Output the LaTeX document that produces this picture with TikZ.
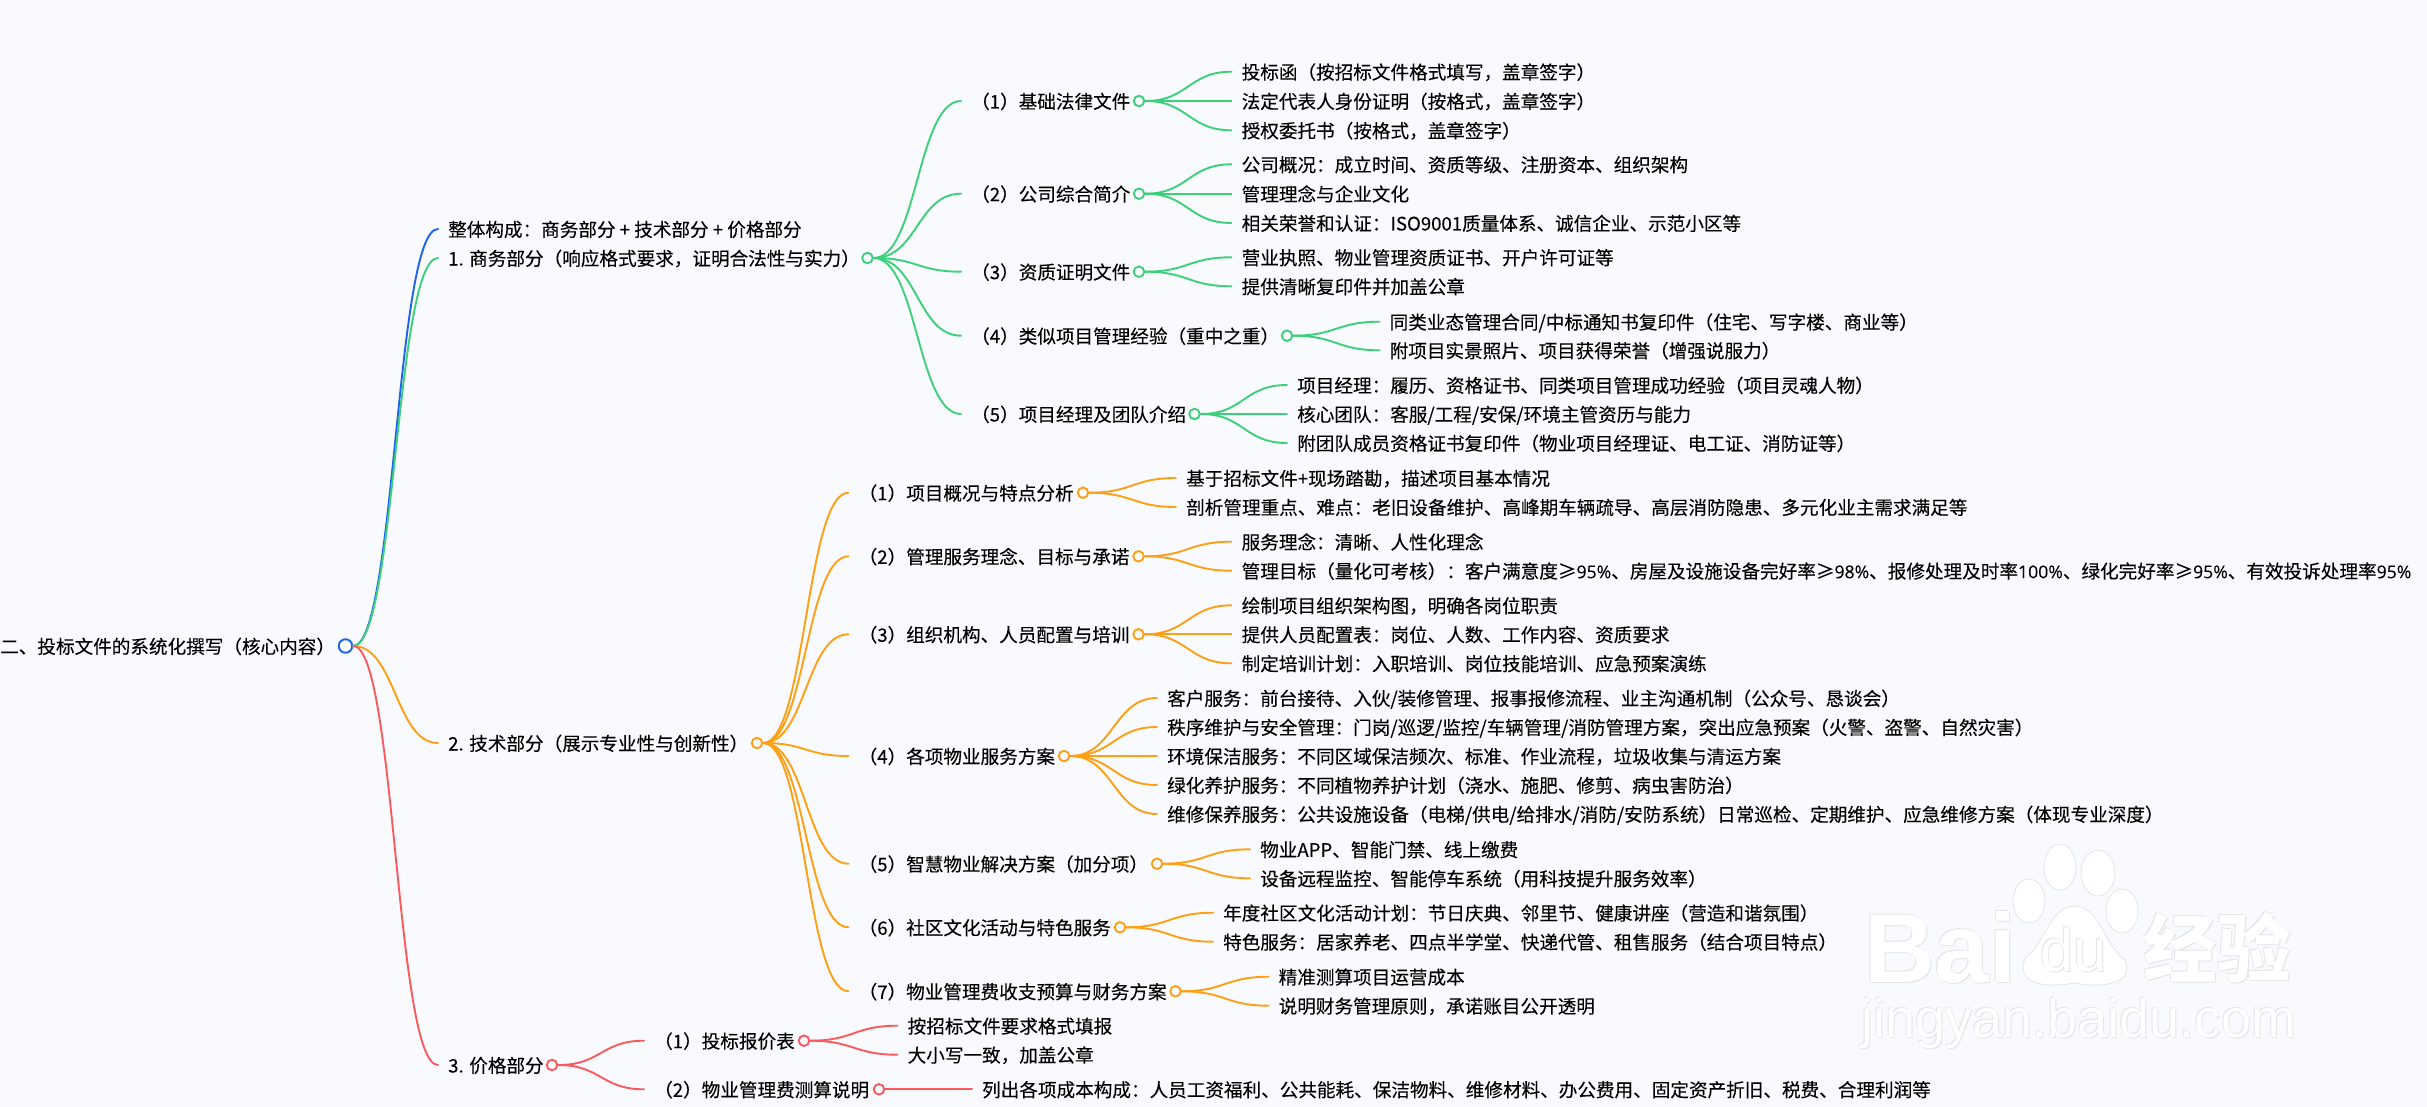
\documentclass[tikz,border=0pt]{standalone}
\usepackage{fontspec}
\setmainfont[FakeBold=0.12]{Noto Sans CJK SC}
\newfontfamily\wmlatin{Liberation Sans}
\newfontfamily\wmcjk{Noto Sans CJK SC}
\newfontfamily\nf[Scale=0.95,FakeBold=0.1]{Open Sans}
\usetikzlibrary{calc}
\definecolor{pagebg}{HTML}{F9FAFD}
\definecolor{cblue}{HTML}{1D63F0}
\definecolor{cgreen}{HTML}{3CD07A}
\definecolor{corange}{HTML}{FF9F14}
\definecolor{cred}{HTML}{F95A5F}
\definecolor{wmline}{HTML}{E4E5E9}
\tikzset{
  txt/.style={anchor=west,inner xsep=10pt,inner ysep=0pt,text height=20pt,text depth=5pt,text=black,
    font=\fontsize{18.6}{22}\selectfont},
  hubdot/.style={circle,fill=pagebg,line width=1.9pt,minimum size=10.5pt,inner sep=0pt},
  rootdot/.style={hubdot,minimum size=13.5pt},
  link/.style={line width=1.9pt,line cap=round},
  wm/.style={inner sep=0pt,text=white},
  wmshadow/.style={inner sep=0pt,text=wmline},
  pawpart/.style={fill=white,draw=wmline,line width=.8pt}
}
% \kid{colour}{parent}{name}{link end x}{y}{text}
\newcommand{\kid}[6]{%
  \node[txt] (#3) at (#4,#5) {#6};
  \draw[link,#1] let \p1=(#2.east), \p2=(#3.west) in
    (\p1) .. controls ({(\x1+\x2)/2},\y1) and ({(\x1+\x2)/2},\y2) .. (\p2);
}
% \hub{colour}{name}{x}{y}
\newcommand{\hub}[4]{\node[hubdot,draw=#1] (#2) at (#3,#4) {};}
\newcommand{\wmtext}[5]{% name, x, y, font, text
  \node[wmshadow,font=#4,anchor=west] (#1a) at (#2+1,#3+1) {#5};
  \node[wmshadow,font=#4,anchor=west] (#1b) at (#2-1,#3-1) {#5};
  \node[wm,font=#4,anchor=west] (#1) at (#2,#3) {#5};
}
\begin{document}
\begin{tikzpicture}[x=1pt,y=-1pt]
\fill[pagebg] (0,0) rectangle (2427,1107);
\useasboundingbox (0,0) rectangle (2427,1107);

% watermark
\wmtext{wmbai}{1864}{947}{\wmlatin\bfseries\fontsize{98}{98}\selectfont}{Bai}
\wmtext{wmjy}{2143}{948}{\wmcjk\bfseries\fontsize{74}{74}\selectfont}{经验}
\wmtext{wmurl}{1861}{1024}{\wmlatin\fontsize{54}{54}\selectfont}{jingyan.baidu.com}
\draw[pawpart] (2060,867) ellipse (16 and 23);
\draw[pawpart] (2098,873) ellipse (17 and 23);
\draw[pawpart] (2029,901) ellipse (16 and 22);
\draw[pawpart] (2122,911) ellipse (16 and 22);
\draw[pawpart] (2074,906) .. controls (2100,906) and (2104,945) .. (2125,960)
  .. controls (2135,985) and (2100,988) .. (2075,983) .. controls (2045,988) and (2015,985) .. (2025,958)
  .. controls (2045,945) and (2050,906) .. (2074,906) -- cycle;
\wmtext{wmdu}{2040}{950}{\wmlatin\fontsize{60}{60}\selectfont}{du}

% root
\node[txt] (root) at (-10,646) {二、投标文件的系统化撰写（核心内容）};
\node[rootdot,draw=cblue] (rootc) at (345.5,646) {};

\kid{cblue}{rootc}{all}{438}{229}{整体构成：商务部分 + 技术部分 + 价格部分}
\kid{cgreen}{rootc}{biz}{438}{258}{1. 商务部分（响应格式要求，证明合法性与实力）}
\kid{corange}{rootc}{tech}{438}{743}{2. 技术部分（展示专业性与创新性）}
\kid{cred}{rootc}{price}{438}{1065}{3. 价格部分}

% business
\hub{cgreen}{bizc}{867.5}{258}
\kid{cgreen}{bizc}{b1}{961}{101}{（1）基础法律文件}
\kid{cgreen}{bizc}{b2}{961}{193.7}{（2）公司综合简介}
\kid{cgreen}{bizc}{b3}{961}{271.7}{（3）资质证明文件}
\kid{cgreen}{bizc}{b4}{961}{335.7}{（4）类似项目管理经验（重中之重）}
\kid{cgreen}{bizc}{b5}{961}{414}{（5）项目经理及团队介绍}

\hub{cgreen}{b1c}{1139}{101}
\kid{cgreen}{b1c}{b11}{1231.5}{71.7}{投标函（按招标文件格式填写，盖章签字）}
\kid{cgreen}{b1c}{b12}{1231.5}{101}{法定代表人身份证明（按格式，盖章签字）}
\kid{cgreen}{b1c}{b13}{1231.5}{130.3}{授权委托书（按格式，盖章签字）}

\hub{cgreen}{b2c}{1139}{193.7}
\kid{cgreen}{b2c}{b21}{1231.5}{164.3}{公司概况：成立时间、资质等级、注册资本、组织架构}
\kid{cgreen}{b2c}{b22}{1231.5}{193.7}{管理理念与企业文化}
\kid{cgreen}{b2c}{b23}{1231.5}{223}{相关荣誉和认证：ISO9001质量体系、诚信企业、示范小区等}

\hub{cgreen}{b3c}{1139}{271.7}
\kid{cgreen}{b3c}{b31}{1231.5}{257.3}{营业执照、物业管理资质证书、开户许可证等}
\kid{cgreen}{b3c}{b32}{1231.5}{286.3}{提供清晰复印件并加盖公章}

\hub{cgreen}{b4c}{1287}{335.7}
\kid{cgreen}{b4c}{b41}{1379.5}{321.7}{同类业态管理合同/中标通知书复印件（住宅、写字楼、商业等）}
\kid{cgreen}{b4c}{b42}{1379.5}{350.3}{附项目实景照片、项目获得荣誉（增强说服力）}

\hub{cgreen}{b5c}{1194.5}{414}
\kid{cgreen}{b5c}{b51}{1287}{385}{项目经理：履历、资格证书、同类项目管理成功经验（项目灵魂人物）}
\kid{cgreen}{b5c}{b52}{1287}{414}{核心团队：客服/工程/安保/环境主管资历与能力}
\kid{cgreen}{b5c}{b53}{1287}{443}{附团队成员资格证书复印件（物业项目经理证、电工证、消防证等）}

% technical
\hub{corange}{techc}{757}{743}
\kid{corange}{techc}{t1}{848.5}{492.7}{（1）项目概况与特点分析}
\kid{corange}{techc}{t2}{848.5}{556.3}{（2）管理服务理念、目标与承诺}
\kid{corange}{techc}{t3}{848.5}{634.3}{（3）组织机构、人员配置与培训}
\kid{corange}{techc}{t4}{848.5}{756}{（4）各项物业服务方案}
\kid{corange}{techc}{t5}{848.5}{863.7}{（5）智慧物业解决方案（加分项）}
\kid{corange}{techc}{t6}{848.5}{927.3}{（6）社区文化活动与特色服务}
\kid{corange}{techc}{t7}{848.5}{991.3}{（7）物业管理费收支预算与财务方案}

\hub{corange}{t1c}{1083}{492.7}
\kid{corange}{t1c}{t11}{1176}{478}{基于招标文件+现场踏勘，描述项目基本情况}
\kid{corange}{t1c}{t12}{1176}{507}{剖析管理重点、难点：老旧设备维护、高峰期车辆疏导、高层消防隐患、多元化业主需求满足等}

\hub{corange}{t2c}{1138.5}{556.3}
\kid{corange}{t2c}{t21}{1231.5}{541.7}{服务理念：清晰、人性化理念}
\kid{corange}{t2c}{t22}{1231.5}{570.7}{管理目标（量化可考核）：客户满意度≥{\nf 95\%}、房屋及设施设备完好率≥{\nf 98\%}、报修处理及时率{\nf 100\%}、绿化完好率≥{\nf 95\%}、有效投诉处理率{\nf 95\%}}

\hub{corange}{t3c}{1138.5}{634.3}
\kid{corange}{t3c}{t31}{1231.5}{605.3}{绘制项目组织架构图，明确各岗位职责}
\kid{corange}{t3c}{t32}{1231.5}{634.3}{提供人员配置表：岗位、人数、工作内容、资质要求}
\kid{corange}{t3c}{t33}{1231.5}{663.3}{制定培训计划：入职培训、岗位技能培训、应急预案演练}

\hub{corange}{t4c}{1064}{756}
\kid{corange}{t4c}{t41}{1157}{698}{客户服务：前台接待、入伙/装修管理、报事报修流程、业主沟通机制（公众号、恳谈会）}
\kid{corange}{t4c}{t42}{1157}{727}{秩序维护与安全管理：门岗/巡逻/监控/车辆管理/消防管理方案，突出应急预案（火警、盗警、自然灾害）}
\kid{corange}{t4c}{t43}{1157}{756}{环境保洁服务：不同区域保洁频次、标准、作业流程，垃圾收集与清运方案}
\kid{corange}{t4c}{t44}{1157}{785}{绿化养护服务：不同植物养护计划（浇水、施肥、修剪、病虫害防治）}
\kid{corange}{t4c}{t45}{1157}{814}{维修保养服务：公共设施设备（电梯/供电/给排水/消防/安防系统）日常巡检、定期维护、应急维修方案（体现专业深度）}

\hub{corange}{t5c}{1157}{863.7}
\kid{corange}{t5c}{t51}{1250}{849.3}{物业APP、智能门禁、线上缴费}
\kid{corange}{t5c}{t52}{1250}{878.3}{设备远程监控、智能停车系统（用科技提升服务效率）}

\hub{corange}{t6c}{1120}{927.3}
\kid{corange}{t6c}{t61}{1213}{912.7}{年度社区文化活动计划：节日庆典、邻里节、健康讲座（营造和谐氛围）}
\kid{corange}{t6c}{t62}{1213}{941.7}{特色服务：居家养老、四点半学堂、快递代管、租售服务（结合项目特点）}

\hub{corange}{t7c}{1175.5}{991.3}
\kid{corange}{t7c}{t71}{1268.5}{976.7}{精准测算项目运营成本}
\kid{corange}{t7c}{t72}{1268.5}{1005.7}{说明财务管理原则，承诺账目公开透明}

% price
\hub{cred}{pricec}{552}{1065}
\kid{cred}{pricec}{p1}{644}{1040.7}{（1）投标报价表}
\kid{cred}{pricec}{p2}{644}{1089.3}{（2）物业管理费测算说明}
\hub{cred}{p1c}{804}{1040.7}
\kid{cred}{p1c}{p11}{897.5}{1025.7}{按招标文件要求格式填报}
\kid{cred}{p1c}{p12}{897.5}{1054.7}{大小写一致，加盖公章}
\hub{cred}{p2c}{879}{1089.3}
\kid{cred}{p2c}{p21}{972}{1089.3}{列出各项成本构成：人员工资福利、公共能耗、保洁物料、维修材料、办公费用、固定资产折旧、税费、合理利润等}
\end{tikzpicture}
\end{document}
